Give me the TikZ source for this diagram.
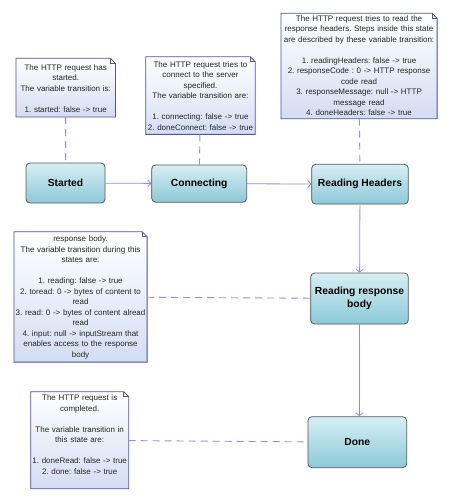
\documentclass[tikz,border=0pt]{standalone}
\usepackage{fontspec}
\setmainfont{Liberation Sans}
\usetikzlibrary{backgrounds,arrows.meta}
\definecolor{noteline}{HTML}{5252A6}
\definecolor{notefill}{HTML}{D3DDF2}
\definecolor{statetop}{HTML}{D8EEF3}
\definecolor{statebot}{HTML}{8CC9D8}
\definecolor{stateline}{HTML}{585858}
\definecolor{flowblue}{HTML}{8C8CF5}
\definecolor{linkblue}{HTML}{8E8EF6}
\frenchspacing
\tikzset{
  state/.style={rectangle, rounded corners=4pt, draw=stateline, line width=0.8pt,
    top color=statetop, bottom color=statebot, align=center, inner sep=0pt,
    font=\fontsize{10.3}{12.5}\selectfont\bfseries},
  note/.style={anchor=north west, inner xsep=0pt, inner ysep=0pt, align=center,
    font=\fontsize{8}{10.5}\selectfont, text=black!85},
  notebox/.style={draw=noteline, line width=0.8pt, top color=white, bottom color=notefill},
  flow/.style={draw=flowblue, line width=0.8pt, -{Straight Barb[length=3pt,width=7pt]}},
  link/.style={draw=linkblue, line width=0.9pt, dash pattern=on 7pt off 5pt},
}
\begin{document}
\begin{tikzpicture}[x=1pt,y=-1pt]
\useasboundingbox (0,0) rectangle (450,502);
% states
\node[state, minimum width=79pt, minimum height=40pt] (started) at (65.5,183) {Started};
\node[state, minimum width=95pt, minimum height=37.3pt] (connecting) at (199.2,183.6) {Connecting};
\node[state, minimum width=96.6pt, minimum height=39.7pt] (headers) at (360,184.2) {Reading Headers};
\node[state, minimum width=97.6pt, minimum height=51pt] (body) at (359.5,298.5) {Reading response\\ body};
\node[state, minimum width=98.7pt, minimum height=51pt] (done) at (357.3,442.2) {Done};
% notes
\node[note, text width=99pt, text height=12pt, text depth=46.4pt] (n1) at (16,58.3)
  {The HTTP request has\\ started.\\ The variable transition is:\\[10.5pt] 1. started: false -> true};
\node[note, text width=109pt, text height=10.3pt, text depth=67pt] (n2) at (145.8,56.7)
  {The HTTP request tries to\\ connect to the server\\ specified.\\ The variable transition are:\\[10.5pt]
   1. connecting: false -> true\\ 2. doneConnect: false -> true};
\node[note, text width=155.7pt, text height=8pt, text depth=97pt] (n3) at (281,13.3)
  {The HTTP request tries to read the\\ response headers. Steps inside this state\\
   are described by these variable transition:\\[10.5pt] 1. readingHeaders: false -> true\\
   2. responseCode : 0 -> HTTP response\\ code read\\ 3. responseMessage: null -> HTTP\\
   message read\\ 4. doneHeaders: false -> true};
\node[note, text width=132.7pt, text height=9.7pt, text depth=120.3pt] (n4) at (14,231.7)
  {response body.\\ The variable transition during this\\ states are:\\[10.5pt]
   1. reading: false -> true\\ 2. toread: 0 -> bytes of content to\\ read\\
   3. read: 0 -> bytes of content alread\\ read\\ 4. input: null -> inputStream that\\
   enables access to the response\\ body};
\node[note, text width=97.6pt, text height=8.7pt, text depth=88pt] (n5) at (30.7,391.7)
  {The HTTP request is\\ completed.\\[10.5pt] The variable transition in\\ this state are:\\[10.5pt]
   1. doneRead: false -> true\\ 2. done: false -> true};
% note shapes with folded corner
\begin{scope}[on background layer]
\fill[white] (0,0) rectangle (450,502);
\foreach \n in {n1,n2,n3,n4,n5}{
  \shadedraw[notebox] (\n.south west) -- (\n.north west) -- ([xshift=-5pt]\n.north east)
    -- ([yshift=-5pt]\n.north east) -- (\n.south east) -- cycle;
  \draw[noteline, line width=0.8pt] ([xshift=-5pt]\n.north east) |- ([yshift=-5pt]\n.north east);
}
\end{scope}
% transitions
\draw[flow] (started) -- (connecting);
\draw[flow] (connecting) -- (headers);
\draw[flow] (headers) -- (body);
\draw[flow] (body.south) -- (body.south |- done.north);
% note links
\draw[link] (n1) -- (started);
\draw[link] (n2) -- (connecting);
\draw[link] (n3) -- (headers);
\draw[link] (n4) -- (body);
\draw[link] (n5) -- (done);
\end{tikzpicture}
\end{document}
